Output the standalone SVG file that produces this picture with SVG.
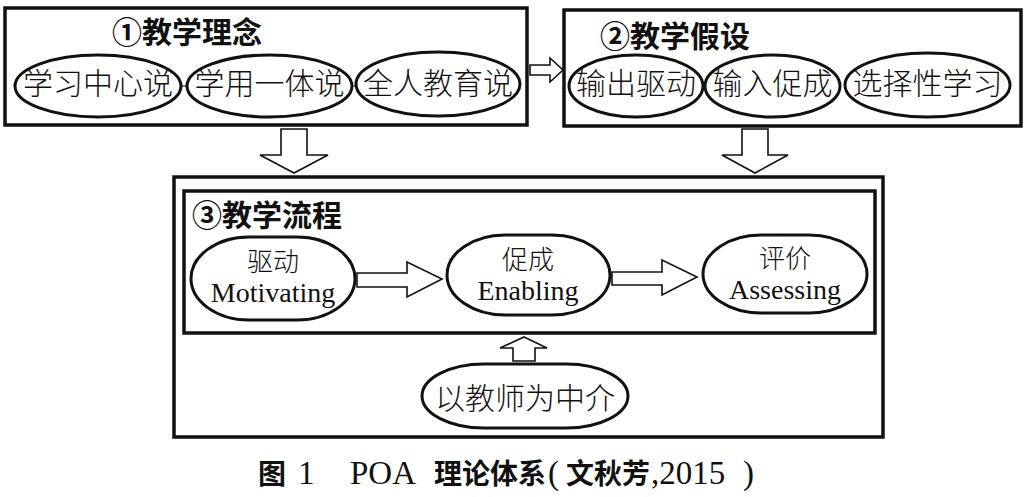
<svg xmlns="http://www.w3.org/2000/svg" width="1028" height="497" viewBox="0 0 1028 497">
<style>
.box{fill:none;stroke:#111;stroke-width:3.5}
.ell{fill:#fff;stroke:#111;stroke-width:3}
.arr{fill:#fff;stroke:#111;stroke-width:1.6;stroke-linejoin:miter}
.cjk{font-family:"Noto Sans CJK SC",sans-serif;font-weight:300;fill:#111}
.t30{font-size:30px}
.t26{font-size:26px}
.title{font-family:"Noto Sans CJK SC",sans-serif;font-size:30px;font-weight:bold;fill:#111}
.lat{font-family:"Liberation Serif",serif;font-size:28px;fill:#111}
.cap{font-family:"Liberation Serif",serif;font-size:33px;fill:#111}
.capc{font-family:"Noto Sans CJK SC",sans-serif;font-size:28px;font-weight:bold;fill:#111}
.mid{text-anchor:middle}
</style>
<rect width="1028" height="497" fill="#fff"/>

<g id="box1">
<rect class="box" x="5" y="8" width="522" height="117"/>
<text class="title" x="112" y="43">①教学理念</text>
<line x1="180" y1="86" x2="189" y2="86" stroke="#111" stroke-width="1"/>
<line x1="350" y1="86" x2="358" y2="86" stroke="#111" stroke-width="1"/>
</g>
<g id="n-xuexizhongxin">
<ellipse class="ell" cx="98" cy="86" rx="83" ry="31"/>
<text class="cjk t30 mid" x="98" y="94">学习中心说</text>
</g>
<g id="n-xueyongyiti">
<ellipse class="ell" cx="269.5" cy="86" rx="82.5" ry="31"/>
<text class="cjk t30 mid" x="269.5" y="94">学用一体说</text>
</g>
<g id="n-quanrenjiaoyu">
<ellipse class="ell" cx="438" cy="84" rx="82" ry="32"/>
<text class="cjk t30 mid" x="438" y="94">全人教育说</text>
</g>

<g id="box2">
<rect class="box" x="564" y="10" width="457" height="116"/>
<text class="title" x="600" y="47">②教学假设</text>
</g>
<g id="n-shuchuqudong">
<ellipse class="ell" cx="636" cy="86" rx="67" ry="31"/>
<text class="cjk t30 mid" x="636" y="94">输出驱动</text>
</g>
<g id="n-shurucucheng">
<ellipse class="ell" cx="772.5" cy="86" rx="67.5" ry="31"/>
<text class="cjk t30 mid" x="772.5" y="94">输入促成</text>
</g>
<g id="n-xuanzexing">
<ellipse class="ell" cx="927.5" cy="85" rx="82.5" ry="32"/>
<text class="cjk t30 mid" x="927.5" y="94">选择性学习</text>
</g>

<g id="box3">
<rect class="box" x="174" y="177" width="709" height="260"/>
<rect class="box" x="184" y="191" width="691" height="142"/>
<text class="title" x="192" y="226">③教学流程</text>
</g>
<g id="n-qudong">
<rect class="ell" x="191" y="237" width="164" height="83" rx="58" ry="41.5"/>
<text class="cjk t26 mid" x="273" y="271">驱动</text>
<text class="lat mid" x="273" y="302">Motivating</text>
</g>
<g id="n-cucheng">
<rect class="ell" x="447" y="235" width="163" height="80" rx="58" ry="40"/>
<text class="cjk t26 mid" x="528" y="269">促成</text>
<text class="lat mid" x="528" y="300">Enabling</text>
</g>
<g id="n-pingjia">
<rect class="ell" x="703" y="235" width="164" height="78" rx="58" ry="39"/>
<text class="cjk t26 mid" x="785" y="268">评价</text>
<text class="lat mid" x="785" y="299">Assessing</text>
</g>
<g id="n-jiaoshi">
<rect class="ell" x="422" y="364" width="206" height="64" rx="62" ry="32"/>
<text class="cjk t30 mid" x="525" y="409">以教师为中介</text>
</g>

<g id="connectors">
<polygon class="arr" points="530,65 550,65 550,58 563,70 550,82 550,75 530,75"/>
<polygon class="arr" points="281,129 307,129 307,155 328,155 294,173 260,155 281,155"/>
<polygon class="arr" points="742,129 768,129 768,155 788,155 755,173 722,155 742,155"/>
<polygon class="arr" points="357,273 407,273 407,262 442,279 407,297 407,287 357,287"/>
<polygon class="arr" points="612,272 662,272 662,260 697,277 662,295 662,285 612,285"/>
<polygon class="arr" points="524,337 547,348 535,348 535,361 513,361 513,348 500,348"/>
</g>

<g id="caption">
<text class="capc" x="258" y="484">图</text>
<text class="cap" x="298" y="484">1</text>
<text class="cap" x="350" y="484">POA</text>
<text class="capc" x="434" y="484">理论体系</text>
<text class="cap" x="548" y="484">(</text>
<text class="capc" x="566" y="484">文秋芳</text>
<text class="cap" x="651" y="484">,2015</text>
<text class="cap" x="743" y="484">)</text>
</g>
</svg>
